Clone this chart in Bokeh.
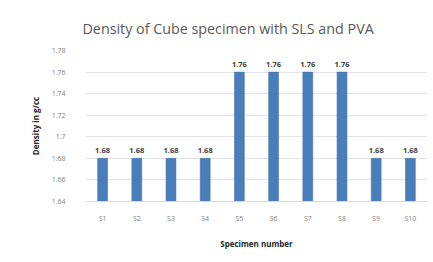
from bokeh.plotting import figure
from bokeh.models import ColumnDataSource, FactorRange, Range1d, FixedTicker, LabelSet, Title
from bokeh.core.properties import value
from bokeh.embed import file_html
from bokeh.resources import INLINE

categories = ["S1", "S2", "S3", "S4", "S5", "S6", "S7", "S8", "S9", "S10"]
density = [1.68, 1.68, 1.68, 1.68, 1.76, 1.76, 1.76, 1.76, 1.68, 1.68]
density_labels = ["1.68", "1.68", "1.68", "1.68", "1.76", "1.76", "1.76", "1.76", "1.68", "1.68"]
y_ticks = [1.64, 1.66, 1.68, 1.70, 1.72, 1.74, 1.76, 1.78]
y_tick_labels = ["1.64", "1.66", "1.68", "1.7", "1.72", "1.74", "1.76", "1.78"]

FONT = "Open Sans"

source = ColumnDataSource(data=dict(cat=categories, val=density, lab=density_labels))

p = figure(
    width=430, height=258,
    x_range=FactorRange(factors=categories, range_padding=0),
    y_range=Range1d(1.64, 1.78),
    output_backend="svg", toolbar_location=None,
    min_border_left=85, min_border_right=3, min_border_top=50, min_border_bottom=57,
)

p.add_layout(Title(text="Density of Cube specimen with SLS and PVA", align="left",
                   text_font=FONT, text_font_size="14.3px", text_font_style="normal",
                   text_color="#595959", standoff=25, offset=-3), "above")

p.vbar(x="cat", top="val", bottom=1.64, width=0.29, source=source,
       fill_color="#4a7ebb", line_color="#3d6fa8", line_width=0.5)

labels = LabelSet(x="cat", y="val", text="lab", source=source, text_align="center",
                  text_baseline="bottom", y_offset=5, text_font=value(FONT),
                  text_font_size=value("7.5px"), text_font_style="bold",
                  text_color="#404040")
p.add_layout(labels)

p.outline_line_color = None
p.background_fill_color = "white"
p.border_fill_color = "white"

p.xgrid.grid_line_color = None
p.ygrid.grid_line_color = "#e3e3e3"
p.ygrid.grid_line_width = 1

p.yaxis.ticker = FixedTicker(ticks=y_ticks)
p.yaxis.major_label_overrides = {t: s for t, s in zip(y_ticks, y_tick_labels)}
p.yaxis.axis_line_color = None
p.yaxis.major_tick_line_color = None
p.yaxis.minor_tick_line_color = None
p.yaxis.major_label_standoff = 14
p.yaxis.major_label_text_font = FONT
p.yaxis.major_label_text_font_size = "7px"
p.yaxis.major_label_text_color = "#7f7f7f"
p.yaxis.axis_label = "Density in g/cc"
p.yaxis.axis_label_text_font = FONT
p.yaxis.axis_label_text_font_size = "8px"
p.yaxis.axis_label_text_font_style = "bold"
p.yaxis.axis_label_text_color = "#262626"
p.yaxis.axis_label_standoff = 8

p.xaxis.axis_line_color = "#d9d9d9"
p.xaxis.major_tick_line_color = None
p.xaxis.minor_tick_line_color = None
p.xaxis.major_label_standoff = 6
p.xaxis.major_label_text_font = FONT
p.xaxis.major_label_text_font_size = "7px"
p.xaxis.major_label_text_color = "#7f7f7f"
p.xaxis.axis_label = "Specimen number"
p.xaxis.axis_label_text_font = FONT
p.xaxis.axis_label_text_font_size = "8px"
p.xaxis.axis_label_text_font_style = "bold"
p.xaxis.axis_label_text_color = "#262626"
p.xaxis.axis_label_standoff = 12

open("out.html", "w").write(file_html(p, INLINE))
